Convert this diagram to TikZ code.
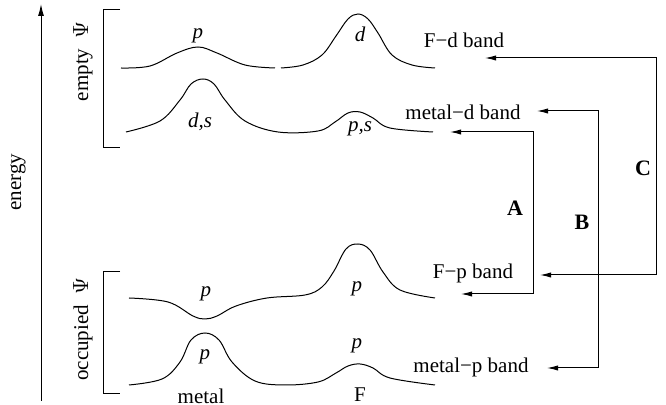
\documentclass[tikz,border=0pt]{standalone}
\usepackage{fontspec}
\setmainfont{Liberation Serif}
\usepackage{tikz}
\usetikzlibrary{positioning,arrows.meta,calc}

\begin{document}
\begin{tikzpicture}[x=0.5pt,y=-0.5pt,
  lbl/.style={font=\fontsize{10.5}{12}\selectfont,inner sep=1pt},
  orb/.style={lbl,font=\fontsize{10.5}{12}\selectfont\itshape},
  tag/.style={lbl,font=\fontsize{11}{12}\selectfont\bfseries},
  band/.style={line width=0.5pt},
  a/.style={{Latex[length=5.5pt,width=2.6pt]}-{Latex[length=5.5pt,width=2.6pt]},line width=0.5pt}]
  \useasboundingbox (0,0) rectangle (666,405);

  % energy axis
  \coordinate (eLow) at (41,401);
  \coordinate (eTop) at (41,4);
  \draw[-{Latex[length=6pt,width=3pt]},line width=0.5pt] (eLow) -- (eTop);
  \node[lbl,rotate=90] (energy) at (18,182) {energy};

  % brackets
  \draw[band] (120,10) -- (103,10) -- (103,148) -- (120,148);
  \draw[band] (120,272) -- (103,272) -- (103,394) -- (120,394);
  \node[lbl,rotate=90] (empty) at (83,61) {empty\ \ $\Psi$};
  \node[lbl,rotate=90] (occ) at (83,329) {occupied\ \ $\Psi$};

  % bands (empty)
  \draw[band] plot[smooth,tension=0.6] coordinates {(121,68) (150,66) (177,53) (198,47) (217,53) (245,65) (275,68)};
  \draw[band] plot[smooth,tension=0.6] coordinates {(281,68) (303,65) (322,55) (336,36) (348,19) (358,14) (368,19) (378,33) (392,55) (412,65) (435,68)};
  \draw[band] plot[smooth,tension=0.6] coordinates {(126,132) (160,121) (180,100) (191,84) (203,79) (214,84) (225,100) (245,121) (278,132) (318,131) (335,122) (348,113) (360,112) (373,118) (390,128) (433,132)};

  % bands (occupied)
  \draw[band] plot[smooth,tension=0.6] coordinates {(129,298) (168,302) (193,316) (205,319) (217,316) (236,306) (267,298) (305,295) (322,287) (334,271) (346,249) (358,244) (370,250) (383,272) (400,290) (435,298)};
  \draw[band] plot[smooth,tension=0.6] coordinates {(129,385) (162,379) (180,362) (191,340) (205,333) (219,340) (232,362) (255,381) (285,385) (318,382) (336,373) (348,366) (360,364) (373,368) (390,378) (435,385)};

  % orbital labels
  \node[orb] (p1) at (198,36) {p};
  \node[orb] (d1) at (360,34) {d};
  \node[orb] (ds) at (200,122) {d,s};
  \node[orb] (ps) at (360,129) {p,s};
  \node[orb] (p3a) at (206,294) {p};
  \node[orb] (p3b) at (357,289) {p};
  \node[orb] (p4a) at (205,357) {p};
  \node[orb] (p4b) at (357,346) {p};
  \node[lbl] (metal) at (201,396) {metal};
  \node[lbl] (F) at (360,395) {F};

  % band names
  \node[lbl] (Fd) at (464,40) {F\textminus d band};
  \node[lbl] (md) at (463,112) {metal\textminus d band};
  \node[lbl] (Fp) at (473,273) {F\textminus p band};
  \node[lbl] (mp) at (471,367) {metal\textminus p band};

  % transitions
  \coordinate (aTop) at (450,132);
  \coordinate (aLow) at (461,294);
  \coordinate (aX) at (533,0);
  \coordinate (bTop) at (537,111);
  \coordinate (bLow) at (547,368);
  \coordinate (bX) at (598,0);
  \coordinate (cTop) at (485,58);
  \coordinate (cLow) at (540,275);
  \coordinate (cX) at (656,0);
  \draw[a] (aTop) -- (aTop -| aX) -- (aLow -| aX) -- (aLow);
  \draw[a] (bTop) -- (bTop -| bX) -- (bLow -| bX) -- (bLow);
  \draw[a] (cTop) -- (cTop -| cX) -- (cLow -| cX) -- (cLow);
  \node[tag] (A) at (515,208) {A};
  \node[tag] (B) at (582,222) {B};
  \node[tag] (C) at (643,168) {C};
\end{tikzpicture}
\end{document}
